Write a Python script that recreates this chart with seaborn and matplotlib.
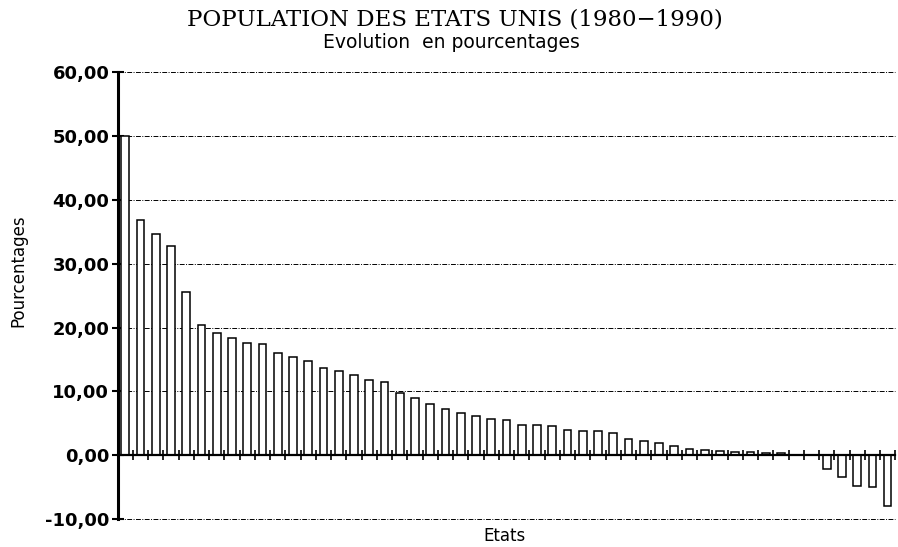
import numpy as np
import pandas as pd
import matplotlib
matplotlib.use("Agg")
import matplotlib.pyplot as plt
import seaborn as sns
from matplotlib.ticker import FuncFormatter

# Evolution de la population par etat (en %), triee decroissante
valeurs = [50.0, 36.8, 34.7, 32.7, 25.6, 20.4, 19.2, 18.3, 17.6, 17.5,
           16.0, 15.4, 14.7, 13.7, 13.2, 12.5, 11.8, 11.4, 9.8, 9.0,
           8.0, 7.2, 6.6, 6.1, 5.7, 5.6, 4.8, 4.7, 4.6, 3.9,
           3.75, 3.75, 3.5, 2.5, 2.2, 1.9, 1.4, 1.0, 0.8, 0.6,
           0.5, 0.5, 0.4, 0.4, 0.1, 0.05, -2.2, -3.4, -4.8, -5.0,
           -8.0]
etats = [str(i + 1) for i in range(len(valeurs))]
y_ticks = [-10, 0, 10, 20, 30, 40, 50, 60]

df = pd.DataFrame({"etat": etats, "evolution": valeurs})

sns.set_theme(style="white")
plt.rcParams["font.family"] = ["DejaVu Sans"]
plt.rcParams["text.color"] = "black"

fig = plt.figure(figsize=(8.98, 5.47), dpi=100)
ax = fig.add_axes([0.131, 0.051, 0.866, 0.817])

sns.barplot(data=df, x="etat", y="evolution", color="white", edgecolor="black",
            linewidth=1.1, width=0.5, saturation=1, ax=ax)

ax.set_ylim(-10, 60)
ax.set_xlim(-0.5, len(valeurs) - 0.5)
ax.set_yticks(y_ticks)
ax.yaxis.set_major_formatter(FuncFormatter(lambda v, p: f"{v:.2f}".replace(".", ",")))
ax.set_xticks(np.arange(len(valeurs)) + 0.5)
ax.set_xticklabels([])

# grille en pointilles
for v in y_ticks:
    if v != 0:
        ax.axhline(v, color="black", linewidth=0.7, linestyle=(0, (5, 1.5, 1, 1.5)),
                   zorder=0, clip_on=False)

for s in ["top", "right"]:
    ax.spines[s].set_visible(False)
ax.spines["bottom"].set_position(("data", 0))
ax.spines["bottom"].set_linewidth(1.6)
ax.spines["bottom"].set_color("black")
ax.spines["left"].set_linewidth(2.2)
ax.spines["left"].set_color("black")
ax.tick_params(axis="y", left=True, direction="inout", length=8, width=1.5,
               labelsize=13, pad=2, colors="black")
ax.tick_params(axis="x", bottom=True, direction="inout", length=7, width=1.2, colors="black")
for t in ax.get_yticklabels():
    t.set_fontweight("semibold")

ax.set_xlabel("")
ax.set_ylabel("")
fig.text(0.021, 0.505, "Pourcentages", rotation=90, ha="center", va="center", fontsize=12)
fig.text(0.562, 0.003, "Etats", ha="center", va="bottom", fontsize=12)

fig.text(0.507, 0.965, "POPULATION DES ETATS UNIS (1980\u22121990)", ha="center", va="center",
         fontsize=16.5, family="DejaVu Serif")
fig.text(0.503, 0.922, "Evolution  en pourcentages", ha="center", va="center", fontsize=13.5)

fig.savefig("out.png", dpi=100, facecolor="white")
